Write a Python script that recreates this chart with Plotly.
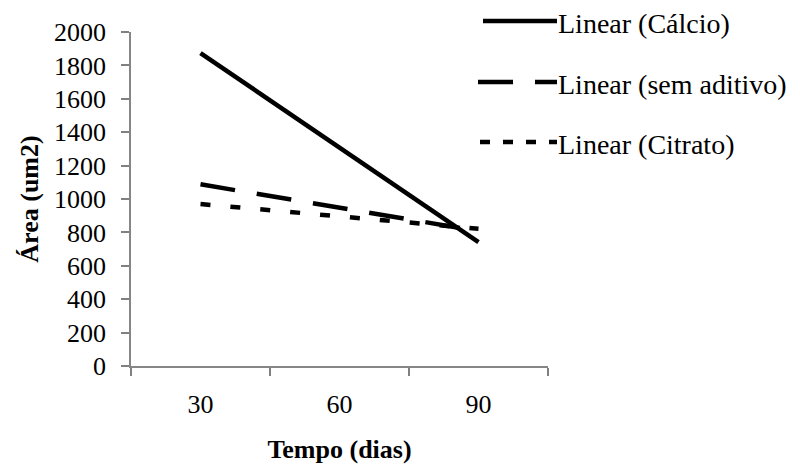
import plotly.graph_objects as go

# Data (linear trendlines read at each category)
categories = ["30", "60", "90"]
calcio = [1874, 1308, 742]
sem_aditivo = [1088, 948, 808]
citrato = [970, 896, 822]
series_names = ["Linear (Cálcio)", "Linear (sem aditivo)", "Linear (Citrato)"]
y_ticks = [0, 200, 400, 600, 800, 1000, 1200, 1400, 1600, 1800, 2000]

FONT = "'Liberation Serif', 'Times New Roman', Times, serif"
styles = [
    dict(dash="solid", width=4.5),
    dict(dash="35px,22px", width=4.5),
    dict(dash="10px,20px", width=4.5),
]

fig = go.Figure()
for name, vals, st in zip(series_names, [calcio, sem_aditivo, citrato], styles):
    fig.add_trace(go.Scatter(
        x=categories, y=vals, mode="lines", name=name,
        line=dict(color="black", width=st["width"], dash=st["dash"]),
        showlegend=False,
    ))

# Manual legend (samples + labels) in paper coordinates
L = 131.0
R = 548.0
T = 32.0
B = 366.0
def px(x):
    return (x - L) / (R - L)
def py(y):
    return (B - y) / (B - T)

leg_rows = [21, 82, 142]
leg_dash = ["solid", "35px,22px", "10px,13px"]
leg_start = [483, 478, 480]
for name, yrow, dsh, xs in zip(series_names, leg_rows, leg_dash, leg_start):
    fig.add_shape(type="line", xref="paper", yref="paper",
                  x0=px(xs), x1=px(557), y0=py(yrow), y1=py(yrow),
                  line=dict(color="black", width=4.5, dash=dsh))
    fig.add_annotation(xref="paper", yref="paper", x=px(556), y=py(yrow + 2),
                       text=name, showarrow=False, xanchor="left", yanchor="middle",
                       font=dict(family=FONT, size=28, color="black"))

# page body has an 8px margin: shift figure accordingly
fig.update_layout(
    width=792, height=456,
    margin=dict(l=123, r=252, t=24, b=98),
    paper_bgcolor="white", plot_bgcolor="white",
    font=dict(family=FONT, color="black"),
    xaxis=dict(
        type="category", range=[-0.5, 2.5], tickson="boundaries",
        ticks="outside", ticklen=8, tickcolor="#808080", tickwidth=1.5,
        showline=True, linecolor="#868686", linewidth=1.5,
        showgrid=False, zeroline=False, automargin=False,
        tickfont=dict(family=FONT, size=26, color="black"),
        ticklabelstandoff=14,
        title=dict(text="<b>Tempo (dias)</b>", font=dict(family=FONT, size=26, color="black"), standoff=23),
    ),
    yaxis=dict(
        range=[0, 2000], tickvals=y_ticks,
        ticks="outside", ticklen=8, tickcolor="#808080", tickwidth=1.5,
        showline=True, linecolor="#868686", linewidth=1.5,
        showgrid=False, zeroline=False, automargin=False,
        tickfont=dict(family=FONT, size=26, color="black"),
        ticklabelstandoff=10,
        title=dict(text="<b>Área (um2)</b>", font=dict(family=FONT, size=26, color="black"), standoff=8),
    ),
)

fig.write_html("out.html")
